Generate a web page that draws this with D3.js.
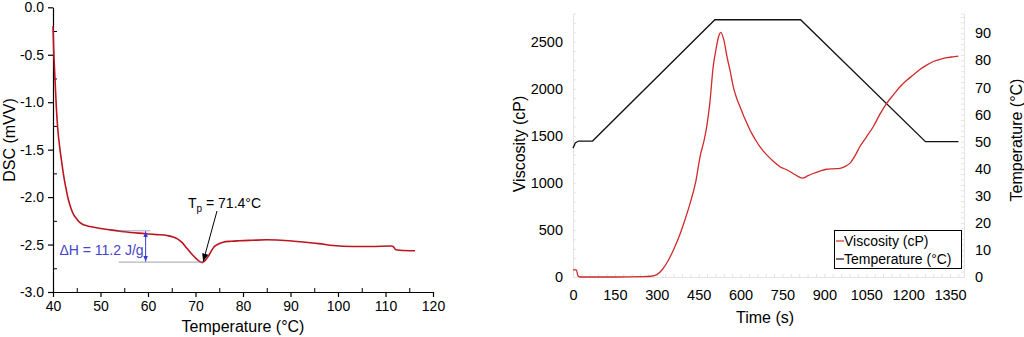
<!DOCTYPE html>
<html><head><meta charset="utf-8">
<script src="https://cdn.jsdelivr.net/npm/d3@7"></script>
<style>
body{margin:0;background:#fff;}
svg{display:block;font-family:"Liberation Sans",Arial,Helvetica,sans-serif;}
</style></head>
<body><svg id="c" width="1024" height="337"></svg>
<script>
// ---- Left panel: DSC ----
const dscTemp = [40,40.15,40.35,40.7,41.0,41.4,41.8,42.2,42.7,43.2,43.8,44.4,45.0,45.7,46.6,47.8,50,52,55,58,61.8,64,65.3,66.2,67.2,68.2,69.2,70.2,70.9,71.4,72.0,72.6,73.2,73.8,74.6,75.8,77.5,79.3,82,85,88,92,96,99,103,107,111.2,111.6,112.2,113,116.2];
const dscValue = [-0.2,-0.45,-0.68,-1.05,-1.28,-1.47,-1.62,-1.76,-1.90,-2.02,-2.12,-2.19,-2.23,-2.27,-2.295,-2.31,-2.33,-2.345,-2.365,-2.38,-2.395,-2.405,-2.42,-2.44,-2.48,-2.54,-2.60,-2.65,-2.68,-2.69,-2.67,-2.63,-2.58,-2.53,-2.50,-2.475,-2.465,-2.46,-2.455,-2.45,-2.455,-2.47,-2.49,-2.51,-2.52,-2.52,-2.515,-2.52,-2.555,-2.56,-2.565];
const dscXTicks = [40,50,60,70,80,90,100,110,120];
const dscYTicks = [0,-0.5,-1.0,-1.5,-2.0,-2.5,-3.0];
const peakTemp = 71.4;
const dhTop = -2.355, dhBottom = -2.685, dhFrom = 53.8, dhTopTo = 60.5;

// ---- Right panel: viscosity / temperature ----
const viscTime = [0,12,18,25,60,150,250,280,300,320,340,360,380,400,420,440,455,470,479,490,502,512,520,529,540,552,562,574,586,598,610,622,634,645,657,669,681,693,717,741,765,788,805,822,840,860,884,908,932,956,975,992,1010,1027,1051,1075,1099,1123,1147,1171,1195,1218,1242,1266,1290,1314,1338,1360,1380];
const viscValue = [75,75,10,0,0,0,3,8,25,80,170,290,430,600,790,1020,1280,1460,1600,1850,2235,2420,2540,2600,2520,2330,2200,2020,1900,1810,1720,1640,1560,1500,1440,1385,1340,1300,1230,1172,1140,1100,1070,1050,1075,1100,1125,1145,1150,1155,1175,1210,1290,1384,1490,1597,1730,1845,1935,2022,2090,2146,2205,2252,2290,2313,2330,2340,2348];
const tempTime = [0,8,20,70,508,815,1262,1380];
const tempValue = [47.5,49.5,50.2,50.2,95,95,50,50];
const timeTicks = [0,150,300,450,600,750,900,1050,1200,1350];
const viscTicks = [0,500,1000,1500,2000,2500];
const tempTicks = [0,10,20,30,40,50,60,70,80,90];

const svg = d3.select("#c");
const defs = svg.append("defs");
function marker(id, color, size){
  defs.append("marker").attr("id",id).attr("viewBox","0 0 10 10").attr("refX",10).attr("refY",5)
    .attr("markerWidth",size).attr("markerHeight",size).attr("orient","auto-start-reverse")
    .attr("markerUnits","userSpaceOnUse")
    .append("path").attr("d","M0,1 L10,5 L0,9 Z").attr("fill",color);
}
marker("arrBlk","#000",8);
marker("arrBlue","#3a3ad0",6);

// ===== Left chart =====
const xL = d3.scaleLinear().domain([40,120]).range([53,433]);
const yL = d3.scaleLinear().domain([-3,0]).range([292,7.3]);
const gL = svg.append("g");

gL.append("g").attr("transform","translate(0,292)")
  .call(d3.axisBottom(xL).tickValues(d3.range(45,120,10)).tickSize(-4).tickFormat(""))
  .call(g=>g.select(".domain").remove());
gL.append("g").attr("transform","translate(53,0)")
  .call(d3.axisLeft(yL).tickValues(d3.range(-2.75,0,0.5)).tickSize(-4).tickFormat(""))
  .call(g=>g.select(".domain").remove());
const axXL = gL.append("g").attr("transform","translate(0,292)")
  .call(d3.axisBottom(xL).tickValues(dscXTicks).tickSize(5).tickSizeOuter(0).tickPadding(4).tickFormat(d3.format("d")));
const axYL = gL.append("g").attr("transform","translate(53,0)")
  .call(d3.axisLeft(yL).tickValues(dscYTicks).tickSize(5).tickSizeOuter(0).tickPadding(4).tickFormat(d=>d.toFixed(1)));
[axXL,axYL].forEach(a=>{a.selectAll("text").attr("font-size",14).attr("fill","#000").attr("font-family","Liberation Sans, Arial, sans-serif");
  a.selectAll("line,path").attr("stroke","#000").attr("stroke-width",1.2);});

gL.append("text").attr("x",243).attr("y",332).attr("text-anchor","middle").attr("font-size",16).text("Temperature (°C)");
gL.append("text").attr("transform","translate(15,140) rotate(-90)").attr("text-anchor","middle").attr("font-size",16).text("DSC (mVV)");

const dscData = dscTemp.map((t,i)=>[t,dscValue[i]]);
gL.append("path").datum(dscData).attr("fill","none").attr("stroke","#bb1520").attr("stroke-width",1.6)
  .attr("d", d3.line().x(d=>xL(d[0])).y(d=>yL(d[1])).curve(d3.curveMonotoneX));

// ΔH annotation
gL.append("line").attr("x1",xL(dhFrom)).attr("x2",xL(dhTopTo)).attr("y1",yL(dhTop)).attr("y2",yL(dhTop)).attr("stroke","#8a8aa0").attr("stroke-width",0.8);
gL.append("line").attr("x1",xL(dhFrom)).attr("x2",xL(peakTemp+0.3)).attr("y1",yL(dhBottom)).attr("y2",yL(dhBottom)).attr("stroke","#8a8aa0").attr("stroke-width",0.8);
const ax = xL(59.5);
gL.append("line").attr("x1",ax).attr("x2",ax).attr("y1",(yL(dhTop)+yL(dhBottom))/2).attr("y2",yL(dhTop)+0.5)
  .attr("stroke","#3a3ad0").attr("stroke-width",1).attr("marker-end","url(#arrBlue)");
gL.append("line").attr("x1",ax).attr("x2",ax).attr("y1",(yL(dhTop)+yL(dhBottom))/2).attr("y2",yL(dhBottom)-0.5)
  .attr("stroke","#3a3ad0").attr("stroke-width",1).attr("marker-end","url(#arrBlue)");
gL.append("text").attr("x",ax-2).attr("y",255).attr("text-anchor","end").attr("font-size",14).attr("fill","#4444cc").text("ΔH = 11.2 J/g");

// Tp annotation
const tp = gL.append("text").attr("x",188).attr("y",208).attr("font-size",14).attr("fill","#000");
tp.append("tspan").text("T");
tp.append("tspan").attr("font-size",10).attr("dy",4).text("p");
tp.append("tspan").attr("dy",-4).text(" = 71.4°C");
gL.append("line").attr("x1",217).attr("y1",211).attr("x2",xL(peakTemp)+1).attr("y2",yL(-2.69)-1)
  .attr("stroke","#000").attr("stroke-width",1).attr("marker-end","url(#arrBlk)");

// ===== Right chart =====
const xR = d3.scaleLinear().domain([0,1400]).range([573,964]);
const yV = d3.scaleLinear().domain([0,2800]).range([277,13.5]);
const yT = d3.scaleLinear().domain([0,97.3]).range([277,13.5]);
const gR = svg.append("g");
const faint = "#e4e4e4";

gR.append("g").attr("transform","translate(0,277)")
  .call(d3.axisBottom(xR).tickValues(d3.range(0,1400,30)).tickSize(-3).tickFormat(""))
  .call(g=>g.selectAll("line,path").attr("stroke",faint));
gR.append("g").attr("transform","translate(573,0)")
  .call(d3.axisLeft(yV).tickValues(d3.range(0,2800,100)).tickSize(-3).tickFormat(""))
  .call(g=>g.selectAll("line,path").attr("stroke",faint));
gR.append("g").attr("transform","translate(964,0)")
  .call(d3.axisRight(yT).tickValues(d3.range(0,97,2)).tickSize(-3).tickFormat(""))
  .call(g=>g.selectAll("line,path").attr("stroke",faint));

const fmtInt = d3.format("d");
const axXR = gR.append("g").attr("transform","translate(0,277)")
  .call(d3.axisBottom(xR).tickValues(timeTicks).tickSize(0).tickPadding(13).tickFormat(fmtInt));
const axYV = gR.append("g").attr("transform","translate(573,0)")
  .call(d3.axisLeft(yV).tickValues(viscTicks).tickSize(0).tickPadding(10).tickFormat(fmtInt));
const axYT = gR.append("g").attr("transform","translate(964,0)")
  .call(d3.axisRight(yT).tickValues(tempTicks).tickSize(0).tickPadding(11).tickFormat(fmtInt));
[axXR,axYV,axYT].forEach(a=>{a.select(".domain").remove();
  a.selectAll("text").attr("font-size",14.5).attr("fill","#000").attr("font-family","Liberation Sans, Arial, sans-serif");});

gR.append("text").attr("x",765).attr("y",323).attr("text-anchor","middle").attr("font-size",16).text("Time (s)");
gR.append("text").attr("transform","translate(525,144) rotate(-90)").attr("text-anchor","middle").attr("font-size",16).text("Viscosity (cP)");
gR.append("text").attr("transform","translate(1022,140) rotate(-90)").attr("text-anchor","middle").attr("font-size",16).text("Temperature (°C)");

const tempData = tempTime.map((t,i)=>[t,tempValue[i]]);
gR.append("path").datum(tempData).attr("fill","none").attr("stroke","#111").attr("stroke-width",1.3)
  .attr("d", d3.line().x(d=>xR(d[0])).y(d=>yT(d[1])));
const viscData = viscTime.map((t,i)=>[t,viscValue[i]]);
gR.append("path").datum(viscData).attr("fill","none").attr("stroke","#d02a2a").attr("stroke-width",1.3)
  .attr("d", d3.line().x(d=>xR(d[0])).y(d=>yV(d[1])).curve(d3.curveMonotoneX));

// legend
const lg = gR.append("g");
lg.append("rect").attr("x",834.5).attr("y",230.5).attr("width",127).attr("height",38).attr("fill","#fff").attr("stroke","#000").attr("stroke-width",1);
const legendItems = [["Viscosity (cP)","#d02a2a"],["Temperature (°C)","#111"]];
legendItems.forEach((d,i)=>{
  const cy = 241 + i*18;
  lg.append("line").attr("x1",836).attr("x2",844).attr("y1",cy).attr("y2",cy).attr("stroke",d[1]).attr("stroke-width",1.2);
  lg.append("text").attr("x",844).attr("y",cy+5).attr("font-size",14).text(d[0]);
});
</script></body></html>
